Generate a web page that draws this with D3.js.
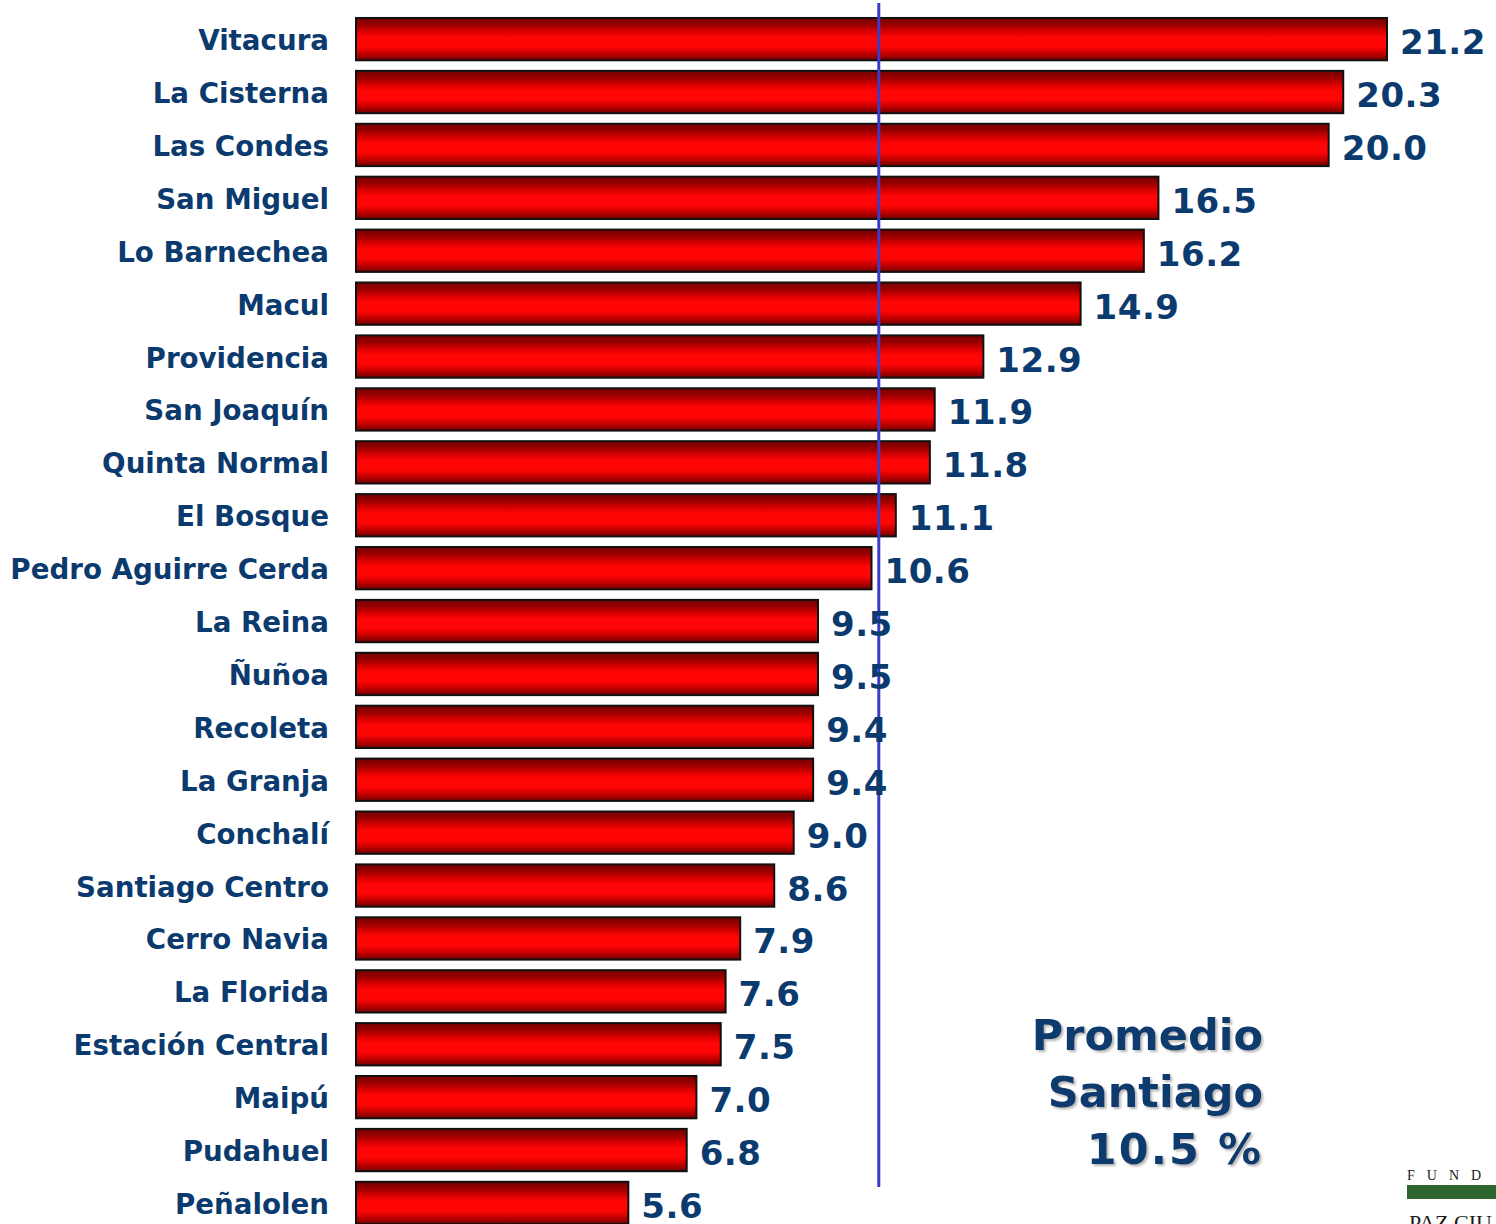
<!DOCTYPE html>
<html>
<head>
<meta charset="utf-8">
<script src="https://cdn.jsdelivr.net/npm/d3@7"></script>
<style>
  body { margin: 0; background: #fff; }
  svg { display: block; }
  text { font-family: "DejaVu Sans", Verdana, sans-serif; font-weight: bold; fill: #0b3a6e; }
</style>
</head>
<body>
<div id="chart"></div>
<script>
/* CONSTANTS AND GLOBALS */
const width = 1496;
const height = 1224;

/* DATA */
const comunas = ["Vitacura", "La Cisterna", "Las Condes", "San Miguel", "Lo Barnechea", "Macul",
  "Providencia", "San Joaquín", "Quinta Normal", "El Bosque", "Pedro Aguirre Cerda", "La Reina",
  "Ñuñoa", "Recoleta", "La Granja", "Conchalí", "Santiago Centro", "Cerro Navia", "La Florida",
  "Estación Central", "Maipú", "Pudahuel", "Peñalolen"];
const valores = [21.2, 20.3, 20.0, 16.5, 16.2, 14.9, 12.9, 11.9, 11.8, 11.1, 10.6, 9.5,
  9.5, 9.4, 9.4, 9.0, 8.6, 7.9, 7.6, 7.5, 7.0, 6.8, 5.6];
const promedio = 10.5;
const promedioLinea = 10.75;   // where the reference line is actually drawn
const promedioTexto = ["Promedio", "Santiago", "10.5 %"];

const dataset = comunas.map((c, i) => ({ comuna: c, valor: valores[i] }));

const svg = d3.select("#chart")
  .append("svg")
  .attr("width", width)
  .attr("height", height);

/* SCALES */
const xScale = d3.scaleLinear()
  .domain([0, 21.2])
  .range([356, 1387]);

const yScale = d3.scaleBand()
  .domain(comunas)
  .range([7.4, 1234.7])
  .padding(0.2);

// bar gradient, dark edges and bright middle
const grad = svg.append("defs").append("linearGradient")
  .attr("id", "barGrad")
  .attr("x1", 0).attr("y1", 0).attr("x2", 0).attr("y2", 1);
[[0, "#760000"], [0.16, "#980000"], [0.32, "#d80000"], [0.46, "#ff0505"],
 [0.68, "#ff0505"], [0.84, "#c40000"], [1, "#6e0000"]].forEach(s => {
  grad.append("stop").attr("offset", s[0]).attr("stop-color", s[1]);
});

const filt = svg.select("defs").append("filter")
  .attr("id", "shadow").attr("x", "-5%").attr("y", "-5%").attr("width", "115%").attr("height", "130%");
filt.append("feDropShadow")
  .attr("dx", 2).attr("dy", 2).attr("stdDeviation", 1)
  .attr("flood-color", "#999").attr("flood-opacity", 0.7);

/* BARS */
svg.selectAll(".bar")
  .data(dataset)
  .join("rect")
  .attr("class", "bar")
  .attr("x", xScale(0))
  .attr("y", d => yScale(d.comuna))
  .attr("width", d => xScale(d.valor) - xScale(0))
  .attr("height", yScale.bandwidth())
  .attr("fill", "url(#barGrad)")
  .attr("stroke", "#111")
  .attr("stroke-width", 2);

// average line
svg.append("line")
  .attr("x1", xScale(promedioLinea))
  .attr("x2", xScale(promedioLinea))
  .attr("y1", 3)
  .attr("y2", 1187)
  .attr("stroke", "#3b3bc8")
  .attr("stroke-width", 3);

/* LABELS */
svg.selectAll(".cat")
  .data(dataset)
  .join("text")
  .attr("class", "cat")
  .attr("x", 329)
  .attr("y", d => yScale(d.comuna) + yScale.bandwidth() / 2 + 11)
  .attr("text-anchor", "end")
  .style("font-size", "27.7px")
  .text(d => d.comuna);

svg.selectAll(".val")
  .data(dataset)
  .join("text")
  .attr("class", "val")
  .attr("x", d => xScale(d.valor) + 13)
  .attr("y", d => yScale(d.comuna) + yScale.bandwidth() / 2 + 15)
  .style("font-size", "34px")
  .style("letter-spacing", "0.5px")
  .text(d => d.valor.toFixed(1));

// average note
svg.selectAll(".prom")
  .data(promedioTexto)
  .join("text")
  .attr("class", "prom")
  .attr("x", 1263)
  .attr("y", (d, i) => 1050 + i * 57)
  .attr("text-anchor", "end")
  .attr("filter", "url(#shadow)")
  .style("font-size", "43px")
  .style("letter-spacing", (d, i) => i === 2 ? "2px" : "0px")
  .text(d => d);

// logo fragment, bottom right
svg.append("text")
  .attr("x", 1407)
  .attr("y", 1180)
  .style("font-family", "'Liberation Serif', serif")
  .style("font-size", "14px")
  .style("font-weight", "normal")
  .style("fill", "#1a1a1a")
  .style("letter-spacing", "12px")
  .text("FUND");

svg.append("rect")
  .attr("x", 1407)
  .attr("y", 1185)
  .attr("width", 89)
  .attr("height", 14)
  .attr("fill", "#2f6630");

svg.append("text")
  .attr("x", 1409)
  .attr("y", 1230)
  .style("font-family", "'Liberation Serif', serif")
  .style("font-size", "22px")
  .style("font-weight", "normal")
  .style("fill", "#1a1a1a")
  .text("PAZ CIU");
</script>
</body>
</html>
